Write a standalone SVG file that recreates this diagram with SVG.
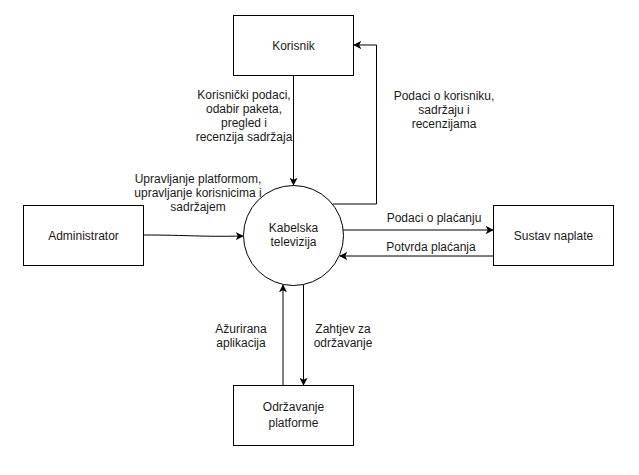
<svg xmlns="http://www.w3.org/2000/svg" width="639" height="475" viewBox="0 0 639 475">
<style>
.box{fill:#fff;stroke:#000;stroke-width:1}
.t{font-family:"Liberation Sans",Arial,sans-serif;font-size:12px;fill:#1a1a1a;text-anchor:middle}
.c{fill:none;stroke:#000;stroke-width:1}
</style>
<defs>
<marker id="a" viewBox="0 0 10 10" refX="9" refY="5" markerWidth="8" markerHeight="8" markerUnits="userSpaceOnUse" orient="auto">
<path d="M0,0 L10,5 L0,10 L2.5,5 Z" fill="#000"/>
</marker>
</defs>
<rect width="639" height="475" fill="#fff"/>
<g id="connectors">
<path class="c" d="M293.5,75 V185" marker-end="url(#a)"/>
<path class="c" d="M333,204 H376.5 V45 H354" marker-end="url(#a)"/>
<path class="c" d="M143,235 C190,235 200,237 243,236" marker-end="url(#a)"/>
<path class="c" d="M343,230 H493" marker-end="url(#a)"/>
<path class="c" d="M493,256 H340" marker-end="url(#a)"/>
<path class="c" d="M283,385 V285" marker-end="url(#a)"/>
<path class="c" d="M303.5,285 V385" marker-end="url(#a)"/>
</g>
<g id="labels">
<text class="t" x="244" y="99">Korisnički podaci,</text>
<text class="t" x="244" y="113">odabir paketa,</text>
<text class="t" x="244" y="127">pregled i</text>
<text class="t" x="244" y="141">recenzija sadržaja</text>
<text class="t" x="444" y="100">Podaci o korisniku,</text>
<text class="t" x="444" y="114">sadržaju i</text>
<text class="t" x="444" y="128">recenzijama</text>
<text class="t" x="198" y="183">Upravljanje platformom,</text>
<text class="t" x="198" y="197">upravljanje korisnicima i</text>
<text class="t" x="198" y="211">sadržajem</text>
<text class="t" x="434" y="222">Podaci o plaćanju</text>
<text class="t" x="431" y="251">Potvrda plaćanja</text>
<text class="t" x="241" y="333">Ažurirana</text>
<text class="t" x="241" y="347">aplikacija</text>
<text class="t" x="343" y="333">Zahtjev za</text>
<text class="t" x="343" y="347">održavanje</text>
</g>
<g id="korisnik">
<rect class="box" x="233.5" y="15.5" width="120" height="60"/>
<text class="t" x="293.5" y="50">Korisnik</text>
</g>
<g id="administrator">
<rect class="box" x="23.5" y="205.5" width="120" height="60"/>
<text class="t" x="83.5" y="240">Administrator</text>
</g>
<g id="sustav-naplate">
<rect class="box" x="493.5" y="205.5" width="120" height="60"/>
<text class="t" x="553.5" y="240">Sustav naplate</text>
</g>
<g id="kabelska-televizija">
<circle class="box" cx="293.5" cy="235.5" r="50"/>
<text class="t" x="293.5" y="232">Kabelska</text>
<text class="t" x="293.5" y="246">televizija</text>
</g>
<g id="odrzavanje-platforme">
<rect class="box" x="233.5" y="385.5" width="120" height="60"/>
<text class="t" x="293.5" y="411">Održavanje</text>
<text class="t" x="293.5" y="427">platforme</text>
</g>
</svg>
